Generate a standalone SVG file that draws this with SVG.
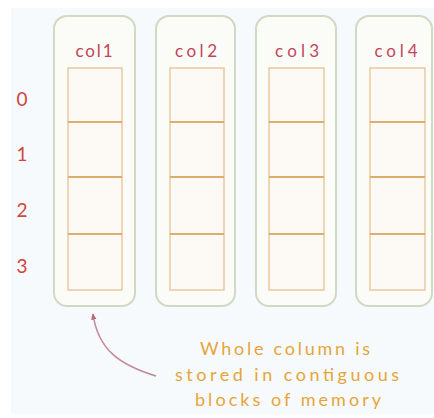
<svg xmlns="http://www.w3.org/2000/svg" width="434" height="418" viewBox="0 0 434 418">
<defs>
<style>
.col{fill:#fbfcf7;stroke:#cfd9c4;stroke-width:2}
.cell{fill:#fdfaf5;stroke:#e8c9a0;stroke-width:1.5}
.div{stroke:#dcae6e;stroke-width:2}
.hdr{font-family:"Lato","Liberation Sans",sans-serif;font-size:17px;fill:#c2455a;text-anchor:middle}
.row{font-family:"Lato","Liberation Sans",sans-serif;font-size:19px;fill:#d2453f;text-anchor:middle}
.note{font-family:"Lato","Liberation Sans",sans-serif;font-size:18px;fill:#e6a53a;text-anchor:middle}
</style>
<marker id="ah" viewBox="0 0 10 10" refX="8" refY="5" markerWidth="7" markerHeight="7" orient="auto-start-reverse" markerUnits="userSpaceOnUse">
<path d="M0,1 L9,5 L0,9 Z" fill="#b86a7a"/>
</marker>
</defs>
<rect x="0" y="0" width="434" height="418" fill="#ffffff"/>
<rect x="11" y="8" width="423" height="406" fill="#f7fafc"/>
<g id="col1">
<rect class="col" x="54" y="16" width="81" height="290" rx="13"/>
<text class="hdr" x="94" y="57" textLength="37" lengthAdjust="spacing">col1</text>
<rect class="cell" x="68" y="68" width="54" height="222"/>
<line class="div" x1="68" y1="122" x2="122" y2="122"/>
<line class="div" x1="68" y1="177" x2="122" y2="177"/>
<line class="div" x1="68" y1="234" x2="122" y2="234"/>
</g>
<g id="col2">
<rect class="col" x="156" y="16" width="79" height="290" rx="13"/>
<text class="hdr" x="196" y="57" textLength="42" lengthAdjust="spacing">col2</text>
<rect class="cell" x="170" y="68" width="54" height="222"/>
<line class="div" x1="170" y1="122" x2="224" y2="122"/>
<line class="div" x1="170" y1="177" x2="224" y2="177"/>
<line class="div" x1="170" y1="234" x2="224" y2="234"/>
</g>
<g id="col3">
<rect class="col" x="256" y="16" width="80" height="290" rx="13"/>
<text class="hdr" x="297" y="57" textLength="44" lengthAdjust="spacing">col3</text>
<rect class="cell" x="269" y="68" width="55" height="222"/>
<line class="div" x1="269" y1="122" x2="324" y2="122"/>
<line class="div" x1="269" y1="177" x2="324" y2="177"/>
<line class="div" x1="269" y1="234" x2="324" y2="234"/>
</g>
<g id="col4">
<rect class="col" x="356" y="16" width="76" height="290" rx="13"/>
<text class="hdr" x="396" y="57" textLength="43" lengthAdjust="spacing">col4</text>
<rect class="cell" x="370" y="68" width="55" height="222"/>
<line class="div" x1="370" y1="122" x2="425" y2="122"/>
<line class="div" x1="370" y1="177" x2="425" y2="177"/>
<line class="div" x1="370" y1="234" x2="425" y2="234"/>
</g>
<g id="rows">
<text class="row" x="22" y="106">0</text>
<text class="row" x="22" y="161">1</text>
<text class="row" x="22" y="217">2</text>
<text class="row" x="22" y="273">3</text>
</g>
<g id="connectors">
<path d="M156,376 C120,365 98,350 93,314" fill="none" stroke="#c48a96" stroke-width="1.6" marker-end="url(#ah)"/>
</g>
<g id="note">
<text class="note" x="285" y="355" textLength="170" lengthAdjust="spacing">Whole column is</text>
<text class="note" x="287" y="381" textLength="224" lengthAdjust="spacing">stored in contiguous</text>
<text class="note" x="288" y="406" textLength="186" lengthAdjust="spacing">blocks of memory</text>
</g>
</svg>
